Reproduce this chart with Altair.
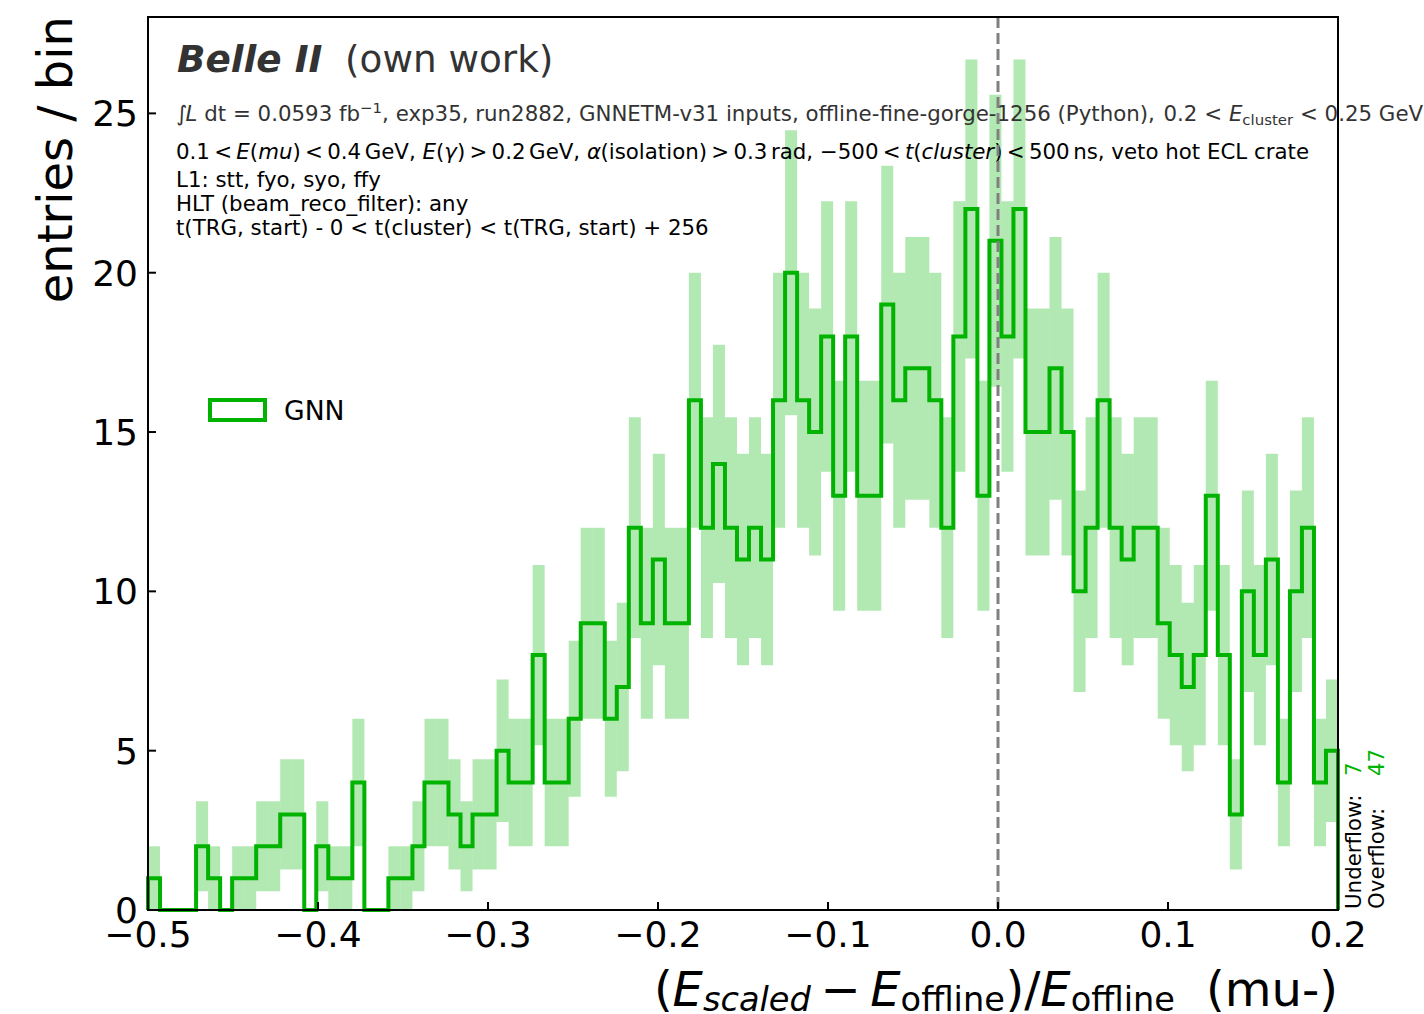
import altair as alt
import numpy as np
import pandas as pd

# ---------------- histogram contents ----------------
x_lo, x_hi = -0.5, 0.2          # histogram range (99 equal bins)
counts = [1, 0, 0, 0, 2, 1, 0, 1, 1, 2,
          2, 3, 3, 0, 2, 1, 1, 4, 0, 0,
          1, 1, 2, 4, 4, 3, 2, 3, 3, 5,
          4, 4, 8, 4, 4, 6, 9, 9, 6, 7,
          12, 9, 11, 9, 9, 16, 12, 14, 12, 11,
          12, 11, 16, 20, 16, 15, 18, 13, 18, 13,
          13, 19, 16, 17, 17, 16, 12, 18, 22, 13,
          21, 18, 22, 15, 15, 17, 15, 10, 12, 16,
          12, 11, 12, 12, 9, 8, 7, 8, 13, 8,
          3, 10, 8, 11, 4, 10, 12, 4, 5]
underflow, overflow = 7, 47
x_ticks = [-0.5, -0.4, -0.3, -0.2, -0.1, 0.0, 0.1, 0.2]
y_ticks = [0, 5, 10, 15, 20, 25]
series_name = "GNN"
reference_x = [0.0]

GREEN = "#00b300"
FONT = "DejaVu Sans"

# plot area geometry (pixels) inside the 1424 x 1014 canvas
W, H = 1190, 893
OX, OY = 148, 17

n_bins = len(counts)
edges = np.linspace(x_lo, x_hi, n_bins + 1)
c = np.array(counts, dtype=float)
err = np.sqrt(c)
y_top = 1.05 * float((c + err).max())

bands = pd.DataFrame({"lo": edges[:-1], "hi": edges[1:],
                      "ylo": c - err, "yhi": c + err})[c > 0]

# outline of the step histogram
sx, sy = [edges[0]], [0.0]
for i, v in enumerate(counts):
    sx += [edges[i], edges[i + 1]]
    sy += [v, v]
sx.append(edges[-1])
sy.append(0.0)
step = pd.DataFrame({"x": sx, "y": sy, "i": range(len(sx))})

xs = alt.Scale(domain=[x_lo, x_hi], nice=False, zero=False)
ys = alt.Scale(domain=[0, y_top], nice=False, zero=False)

# ---------------- text layout helpers ----------------
ADV = {" ": 651, "(": 799, ")": 799, ",": 651, "-": 739, ".": 651, "/": 690,
       ":": 690, "<": 1716, "=": 1716, ">": 1716, "+": 1716, "\u2212": 1716,
       "_": 1024, "\u222b": 922, "\u03b1": 1300, "\u03b3": 1212,
       "C": 1430, "E": 1294, "G": 1587, "H": 1540, "L": 1141, "M": 1767,
       "N": 1532, "P": 1235, "R": 1423, "T": 1251, "V": 1401,
       "a": 1255, "b": 1300, "c": 1126, "d": 1300, "e": 1260, "f": 721,
       "g": 1300, "h": 1298, "i": 569, "k": 1186, "l": 569, "m": 1995,
       "n": 1298, "o": 1253, "p": 1300, "r": 842, "s": 1067, "t": 803,
       "u": 1298, "v": 1212, "w": 1675, "x": 1212, "y": 1212}
for d in "0123456789":
    ADV[d] = 1303
SP = 651 / 2048  # width of a word space, in em


def text_width(s, size):
    return sum(ADV.get(ch, 1250) for ch in s) / 2048.0 * size


def N(s, scale=1.0, dy=0.0):
    return (s, "normal", scale, dy)


def I(s, scale=1.0, dy=0.0):
    return (s, "italic", scale, dy)


def line_width(pieces, size):
    w = 0.0
    for p in pieces:
        w += p * size if not isinstance(p, tuple) else text_width(p[0], size * p[2])
    return w


rows = []


def set_line(pieces, x, base, size, color):
    for p in pieces:
        if not isinstance(p, tuple):
            x += p * size
            continue
        s, style, scale, dy = p
        rows.append({"t": s, "px": x - OX, "py": base + dy - OY,
                     "fs": size * scale, "style": style, "col": color})
        x += text_width(s, size * scale)
    return x


FS_TXT = 64 / 3
FS_BIG = 112 / 3
FS_LAB = 48.0
FS_TICK = 36.0
FS_LEG = 80 / 3
TXT_X = 176

# experiment label
rows.append({"t": "Belle II", "px": 177 - OX, "py": 72 - OY, "fs": FS_BIG,
             "style": "bolditalic", "col": "#333333"})
rows.append({"t": "(own work)", "px": 345 - OX, "py": 72 - OY, "fs": FS_BIG,
             "style": "normal", "col": "#333333"})

line1 = [N("\u222b"), I("L"), SP, N("dt = 0.0593 fb"), N("\u22121", 0.7, -8),
         N(", exp35, run2882, GNNETM-v31 inputs, offline-fine-gorge-1256 (Python),"), SP,
         N("0.2"), SP, N("<"), SP, I("E"), N("cluster", 0.7, 4), SP, N("<"), SP,
         N("0.25"), SP, N("GeV")]
set_line(line1, TXT_X, 121, FS_TXT, "#333333")

line2 = [N("0.1"), 0.2, N("<"), 0.2, I("E"), N("("), I("mu"), N(")"), 0.2, N("<"), 0.2,
         N("0.4"), 1 / 6, N("GeV,"), SP,
         I("E"), N("("), I("\u03b3"), N(")"), 0.2, N(">"), 0.2, N("0.2"), 1 / 6, N("GeV,"), SP,
         I("\u03b1"), N("(isolation)"), 0.2, N(">"), 0.2, N("0.3"), 1 / 6, N("rad,"), SP,
         N("\u2212500"), 0.2, N("<"), 0.2, I("t"), N("("), I("cluster"), N(")"), 0.2, N("<"), 0.2,
         N("500"), 1 / 6, N("ns,"), SP, N("veto hot ECL crate")]
set_line(line2, TXT_X, 159, FS_TXT, "black")

for text, base in [("L1: stt, fyo, syo, ffy", 187),
                   ("HLT (beam_reco_filter): any", 211),
                   ("t(TRG, start) - 0 < t(cluster) < t(TRG, start) + 256", 235)]:
    set_line([N(text)], TXT_X, base, FS_TXT, "black")

# x-axis title, right-aligned with the end of the axis
xlabel = [N("("), I("E"), I("scaled", 0.7, 5), 0.2, N("\u2212"), 0.2, I("E"),
          N("offline", 0.7, 5), N(")"), N("/"), I("E"), N("offline", 0.7, 5),
          2 * SP, N("(mu-)")]
set_line(xlabel, OX + W - line_width(xlabel, FS_LAB), 1006, FS_LAB, "black")

# legend label
rows.append({"t": series_name, "px": 284 - OX, "py": 420 - OY, "fs": FS_LEG,
             "style": "normal", "col": "black"})

texts = pd.DataFrame(rows)


def text_layer(df, **style):
    return alt.Chart(df).mark_text(align="left", baseline="alphabetic", font=FONT, **style).encode(
        x=alt.X("px:Q", scale=None, axis=None),
        y=alt.Y("py:Q", scale=None, axis=None),
        text="t:N",
        size=alt.Size("fs:Q", scale=None, legend=None),
        color=alt.Color("col:N", scale=None, legend=None),
    )


t_normal = text_layer(texts[texts["style"] == "normal"], fontStyle="normal", fontWeight="normal")
t_italic = text_layer(texts[texts["style"] == "italic"], fontStyle="italic", fontWeight="normal")
t_bold = text_layer(texts[texts["style"] == "bolditalic"], fontStyle="italic", fontWeight="bold")

# rotated texts: underflow / overflow counters
rot = pd.DataFrame([
    {"t": "Underflow:", "px": 1361 - OX, "py": 909 - OY, "col": "black"},
    {"t": "Overflow:", "px": 1384 - OX, "py": 909 - OY, "col": "black"},
    {"t": str(underflow), "px": 1361 - OX, "py": 776 - OY, "col": GREEN},
    {"t": str(overflow), "px": 1384 - OX, "py": 776 - OY, "col": GREEN},
])
t_rot = alt.Chart(rot).mark_text(angle=270, align="left", baseline="alphabetic",
                                 font=FONT, fontSize=FS_TXT).encode(
    x=alt.X("px:Q", scale=None, axis=None),
    y=alt.Y("py:Q", scale=None, axis=None),
    text="t:N",
    color=alt.Color("col:N", scale=None, legend=None),
)

ytitle = alt.Chart(pd.DataFrame({"t": ["entries / bin"]})).mark_text(
    angle=270, align="right", baseline="alphabetic", font=FONT, fontSize=FS_LAB, color="black"
).encode(x=alt.value(72 - OX), y=alt.value(16 - OY), text="t:N")

# ---------------- data marks ----------------
band_layer = alt.Chart(bands).mark_rect(color=GREEN, opacity=0.3, strokeWidth=0).encode(
    x=alt.X("lo:Q", scale=xs, axis=None),
    x2="hi:Q",
    y=alt.Y("ylo:Q", scale=ys, axis=None),
    y2="yhi:Q",
)

step_layer = alt.Chart(step).mark_line(color=GREEN, strokeWidth=4, strokeJoin="miter").encode(
    x=alt.X("x:Q", scale=xs, axis=None),
    y=alt.Y("y:Q", scale=ys, axis=None),
    order=alt.Order("i:Q"),
)

zero_line = alt.Chart(pd.DataFrame({"v": reference_x})).mark_rule(
    color="gray", strokeWidth=3, strokeDash=[11, 5]
).encode(x=alt.X("v:Q", scale=xs, axis=None))

# legend entry
legend_box = alt.Chart(pd.DataFrame({"k": [series_name]})).mark_rect(
    fillOpacity=0, stroke=GREEN, strokeWidth=4
).encode(x=alt.value(210 - OX), x2=alt.value(265 - OX), y=alt.value(400 - OY), y2=alt.value(420 - OY))

# inward ticks, tick labels and frame
xt = pd.DataFrame({"v": x_ticks, "lab": [f"{v:.1f}".replace("-", "\u2212") for v in x_ticks]})
yt = pd.DataFrame({"v": y_ticks, "lab": [str(v) for v in y_ticks]})

xtick_layer = alt.Chart(xt).mark_rule(color="black", strokeWidth=2).encode(
    x=alt.X("v:Q", scale=xs, axis=None), y=alt.value(H), y2=alt.value(H - 8))
ytick_layer = alt.Chart(yt).mark_rule(color="black", strokeWidth=2).encode(
    y=alt.Y("v:Q", scale=ys, axis=None), x=alt.value(0), x2=alt.value(8))
xlab_layer = alt.Chart(xt).mark_text(align="center", baseline="alphabetic", font=FONT,
                                     fontSize=FS_TICK, color="black").encode(
    x=alt.X("v:Q", scale=xs, axis=None), y=alt.value(947 - OY), text="lab:N")
ylab_layer = alt.Chart(yt).mark_text(align="right", baseline="alphabetic", font=FONT,
                                     fontSize=FS_TICK, color="black", dy=13).encode(
    y=alt.Y("v:Q", scale=ys, axis=None), x=alt.value(-10), text="lab:N")
frame = alt.Chart(pd.DataFrame({"k": [0]})).mark_rect(
    fillOpacity=0, stroke="black", strokeWidth=2
).encode(x=alt.value(0), x2=alt.value(W), y=alt.value(0), y2=alt.value(H))

chart = alt.layer(
    band_layer, step_layer, t_normal, t_italic, t_bold, t_rot, ytitle,
    legend_box, zero_line, xtick_layer, ytick_layer, xlab_layer, ylab_layer, frame,
).properties(
    width=W, height=H,
    padding={"left": OX, "top": OY, "right": 1424 - OX - W, "bottom": 1014 - OY - H},
    autosize=alt.AutoSizeParams(type="none"),
    background="white",
).configure_view(strokeWidth=0)

chart.save("out.html", embed_options={"renderer": "svg", "actions": False})
